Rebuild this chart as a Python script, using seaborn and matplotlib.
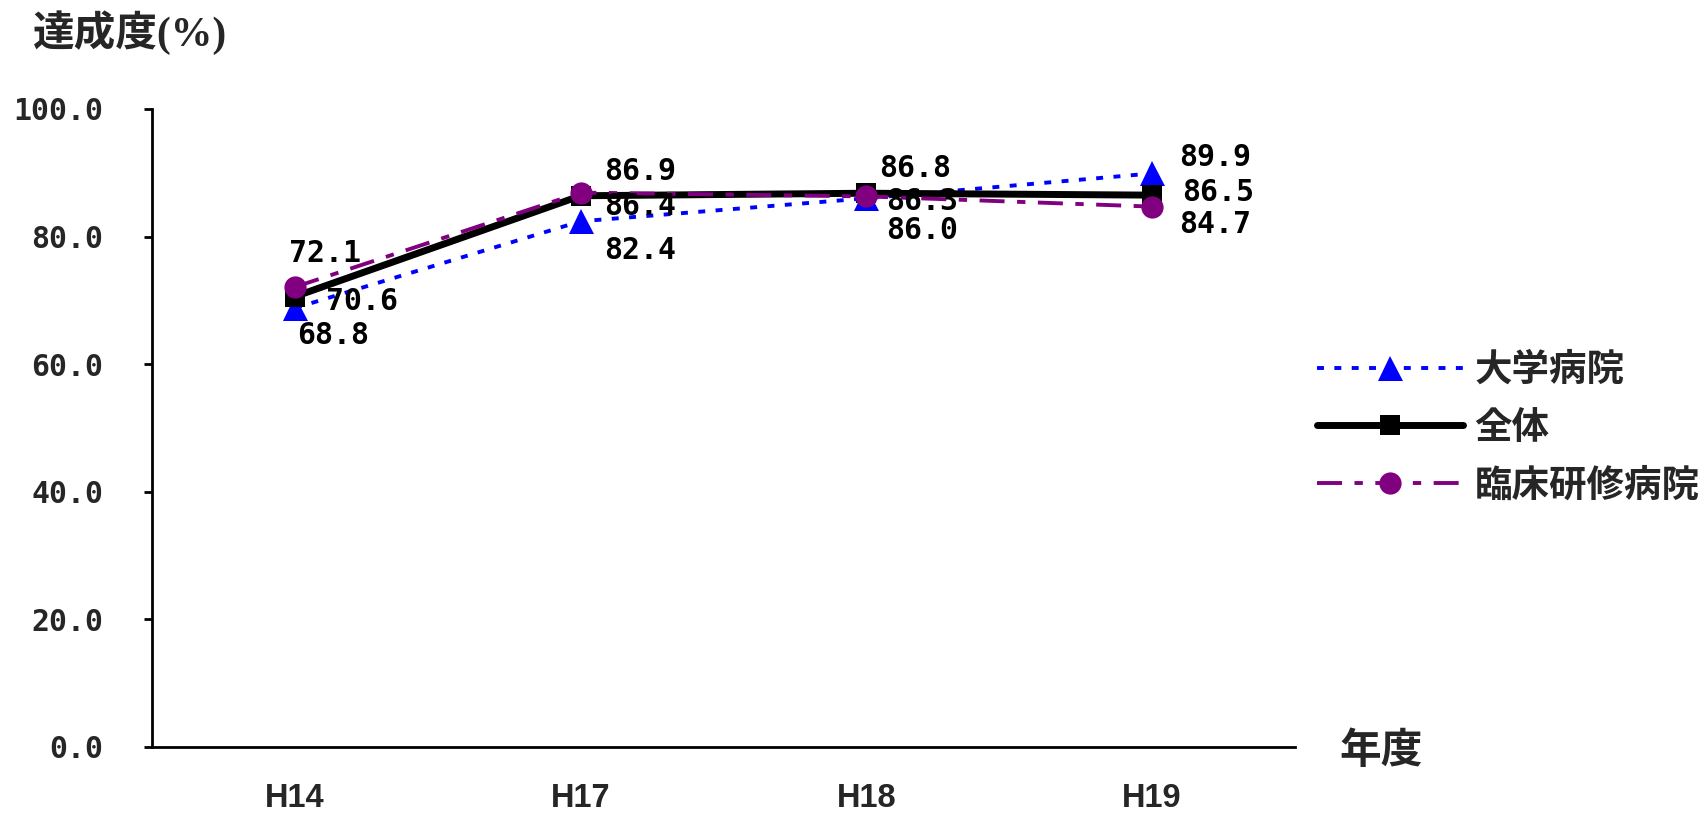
import matplotlib
matplotlib.use("Agg")
import matplotlib.pyplot as plt
import seaborn as sns
import pandas as pd

# ---- data ----
years = ["H14", "H17", "H18", "H19"]
univ = [68.8, 82.4, 86.0, 89.9]        # 大学病院
overall = [70.6, 86.4, 86.8, 86.5]     # 全体
clinical = [72.1, 86.9, 86.3, 84.7]    # 臨床研修病院
series_names = ["大学病院", "全体", "臨床研修病院"]
yticks = [0, 20, 40, 60, 80, 100]

sns.set_style("white")
plt.rcParams["font.family"] = ["Noto Sans CJK JP", "DejaVu Sans"]
plt.rcParams["lines.scale_dashes"] = False

W, H = 1707, 814
fig = plt.figure(figsize=(W / 100, H / 100), dpi=100)
ax = fig.add_axes([152 / W, 1 - 747 / H, (1295 - 152) / W, (747 - 109) / H])

styles = [
    dict(color="#0000FF", marker="^", markersize=18, linewidth=2.8,
         linestyle=(0, (5, 7.5))),
    dict(color="#000000", marker="s", markersize=14, linewidth=5,
         linestyle="-"),
    dict(color="#800080", marker="o", markersize=16, linewidth=2.8,
         linestyle=(0, (18, 9, 6, 9))),
]
label_offsets = [
    [(38, -27), (59, -29), (56, -32), (63, 16)],
    [(67, -5), (59, -11), (49, 25), (66, 3)],
    [(30, 34), (59, 21), (56, -5), (63, -18)],
]

for name, vals, st, offs in zip(series_names, [univ, overall, clinical], styles, label_offsets):
    df = pd.DataFrame({"year": years, "val": vals})
    sns.lineplot(data=df, x="year", y="val", ax=ax, sort=False, label=name,
                 markeredgewidth=0, **st)
    for i, v in enumerate(vals):
        ax.annotate(f"{v:.1f}", (i, v), xytext=offs[i], textcoords="offset pixels",
                    ha="center", va="center", fontsize=21.5,
                    family="DejaVu Sans Mono", fontweight="bold", color="black")

ax.set_xlim(-0.5, 3.5)
ax.set_ylim(0, 100)
ax.set_yticks(yticks)
ax.set_yticklabels([f"{t:.1f}" for t in yticks], family="DejaVu Sans Mono",
                   fontweight="bold", fontsize=21.5)
ax.set_xticks(range(len(years)))
ax.set_xticklabels(years, family="Liberation Sans", fontweight="bold", fontsize=23.5)
ax.set_xticks([-0.5, 0.5, 1.5, 2.5, 3.5], minor=True)
ax.tick_params(axis="x", which="major", length=0, pad=26)
ax.tick_params(axis="x", which="minor", length=8, width=2, direction="out", color="black")
ax.tick_params(axis="y", which="major", length=6, width=2, direction="out",
               color="black", pad=29, left=True)
ax.set_xlabel("")
ax.set_ylabel("")
for s in ["top", "right"]:
    ax.spines[s].set_visible(False)
for s in ["left", "bottom"]:
    ax.spines[s].set_linewidth(2)
    ax.spines[s].set_color("black")
ax.grid(False)

leg = ax.legend(loc="center left", bbox_to_anchor=(1317 / W, 1 - 427 / H),
                bbox_transform=fig.transFigure, frameon=False,
                handlelength=3.9, handletextpad=0.3, borderpad=0,
                borderaxespad=0, labelspacing=0.5,
                prop=dict(family=["Noto Sans CJK JP"], weight="bold", size=27))

fig.text(33 / W, 1 - 33 / H, "達成度(%)", ha="left", va="center", fontsize=30,
         fontweight="bold", family=["Liberation Serif", "Noto Sans CJK JP"])
fig.text(1339 / W, 1 - 751 / H, "年度", ha="left", va="center", fontsize=30,
         fontweight="bold", family=["Noto Sans CJK JP"])

fig.savefig("out.png", dpi=100)
